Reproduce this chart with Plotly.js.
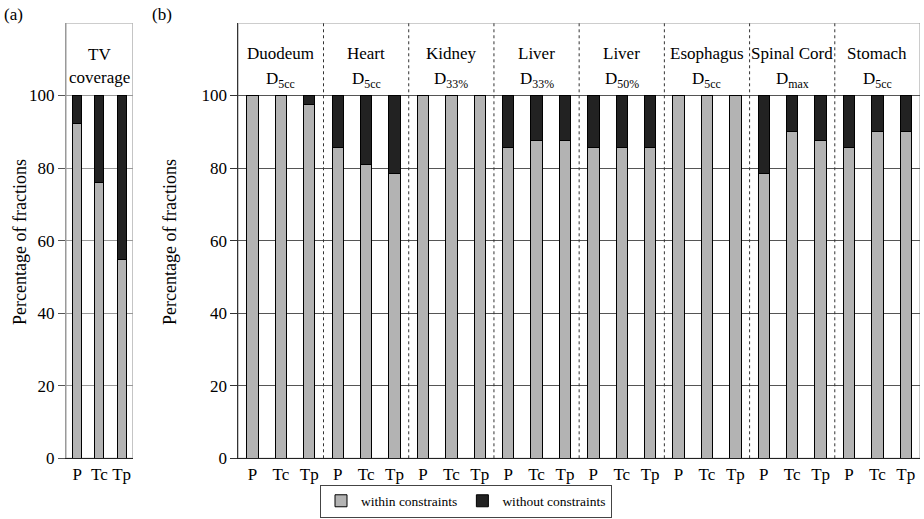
<!DOCTYPE html>
<html><head><meta charset="utf-8">
<script src="https://cdn.plot.ly/plotly-3.0.1.min.js"></script>
<style>html,body{margin:0;padding:0;background:#fff}#chart{width:924px;height:519px}</style>
</head><body><div id="chart"></div>
<script>
// ---- data ----
const methods = ['P', 'Tc', 'Tp'];
const withinA = [92.4, 75.9, 54.8];
const withoutA = [7.6, 24.1, 45.2];
const headerA = ['TV', 'coverage'];

const organs = ['Duodeum', 'Heart', 'Kidney', 'Liver', 'Liver', 'Esophagus', 'Spinal Cord', 'Stomach'];
const metrics = ['D<sub>5cc</sub>', 'D<sub>5cc</sub>', 'D<sub>33%</sub>', 'D<sub>33%</sub>', 'D<sub>50%</sub>', 'D<sub>5cc</sub>', 'D<sub>max</sub>', 'D<sub>5cc</sub>'];
const withinB = [100, 100, 97.5, 85.8, 81.0, 78.5, 100, 100, 100, 85.8, 87.6, 87.6, 85.8, 85.8, 85.8, 100, 100, 100, 78.5, 90.0, 87.6, 85.8, 90.0, 90.0];
const withoutB = [0, 0, 2.5, 14.2, 19.0, 21.5, 0, 0, 0, 14.2, 12.4, 12.4, 14.2, 14.2, 14.2, 0, 0, 0, 21.5, 10.0, 12.4, 14.2, 10.0, 10.0];
const yTicks = [0, 20, 40, 60, 80, 100];
const seriesNames = ['within constraints', 'without constraints'];

// ---- build ----
const FONT = "'Liberation Serif', 'DejaVu Serif', serif";
const cGray = '#b3b3b3', cDark = '#222222';
const xA = methods.map((_, i) => i);
const xB = [], tickB = [];
organs.forEach((o, g) => methods.forEach((m, k) => { xB.push(g * 3 + k); tickB.push(m); }));

const barLine = {color: '#000', width: 1};
const traces = [
  {type: 'bar', x: xA, y: withinA, xaxis: 'x', yaxis: 'y', name: seriesNames[0], showlegend: false,
   marker: {color: cGray, line: barLine}, width: 0.4, hoverinfo: 'y'},
  {type: 'bar', x: xA, y: withoutA, xaxis: 'x', yaxis: 'y', name: seriesNames[1], showlegend: false,
   marker: {color: cDark, line: barLine}, width: 0.4, hoverinfo: 'y'},
  {type: 'bar', x: xB, y: withinB, xaxis: 'x2', yaxis: 'y2', name: seriesNames[0],
   marker: {color: cGray, line: barLine}, width: 0.4, hoverinfo: 'y'},
  {type: 'bar', x: xB, y: withoutB, xaxis: 'x2', yaxis: 'y2', name: seriesNames[1],
   marker: {color: cDark, line: barLine}, width: 0.4, hoverinfo: 'y'}
];

const yDom = [0.117, 0.9557];
const tf = {family: FONT, size: 17, color: '#000'};
const hf = {family: FONT, size: 17, color: '#000'};
const titleF = {family: FONT, size: 18, color: '#000'};
const shapes = [
  {type: 'rect', xref: 'x', yref: 'y', x0: -0.5, x1: 2.5, y0: 0, y1: 120, line: {color: '#999', width: 1}, layer: 'below'},
  {type: 'rect', xref: 'x2', yref: 'y2', x0: -0.5, x1: 23.5, y0: 0, y1: 120, line: {color: '#999', width: 1}, layer: 'below'}
];
for (let g = 1; g < organs.length; g++) {
  shapes.push({type: 'line', xref: 'x2', yref: 'y2', x0: g * 3 - 0.5, x1: g * 3 - 0.5, y0: 0, y1: 120,
    line: {color: '#333', width: 1, dash: '3px,3px'}});
}

const annotations = [];
const ann = (o) => Object.assign({showarrow: false, xanchor: 'center', yanchor: 'middle', font: hf}, o);
annotations.push(ann({xref: 'x', yref: 'y', x: 1, y: 111.2, text: headerA[0]}));
annotations.push(ann({xref: 'x', yref: 'y', x: 1, y: 105, text: headerA[1]}));
organs.forEach((o, g) => {
  annotations.push(ann({xref: 'x2', yref: 'y2', x: g * 3 + 1, y: 111.6, text: o}));
  annotations.push(ann({xref: 'x2', yref: 'y2', x: g * 3 + 1, y: 104.2, text: metrics[g]}));
});
annotations.push(ann({xref: 'paper', yref: 'paper', x: 20 / 924, y: 1 - 242 / 519, text: 'Percentage of fractions',
  textangle: -90, font: titleF}));
annotations.push(ann({xref: 'paper', yref: 'paper', x: 170 / 924, y: 1 - 242 / 519, text: 'Percentage of fractions',
  textangle: -90, font: titleF}));
annotations.push(ann({xref: 'paper', yref: 'paper', x: 13 / 924, y: 1 - 14 / 519, text: '(a)', font: tf}));
annotations.push(ann({xref: 'paper', yref: 'paper', x: 162 / 924, y: 1 - 14 / 519, text: '(b)', font: tf}));

const layout = {
  width: 924, height: 519,
  margin: {l: 0, r: 0, t: 0, b: 0},
  paper_bgcolor: '#fff', plot_bgcolor: '#fff',
  barmode: 'stack',
  font: tf,
  xaxis: {domain: [66 / 924, 132.7 / 924], range: [-0.5, 2.5], anchor: 'y', tickvals: xA, ticktext: methods,
    showline: true, linecolor: '#222', ticks: '', showgrid: false, zeroline: false, tickfont: tf, tickangle: 0},
  yaxis: {domain: yDom, range: [0, 120], anchor: 'x', tickvals: yTicks, showgrid: true, gridcolor: '#999',
    showline: true, linecolor: '#999', ticks: 'outside', ticklen: 7, tickcolor: '#555', zeroline: false, tickfont: tf},
  xaxis2: {domain: [238.3 / 924, 920 / 924], range: [-0.5, 23.5], anchor: 'y2', tickvals: xB, ticktext: tickB,
    showline: true, linecolor: '#222', ticks: '', showgrid: false, zeroline: false, tickfont: tf, tickangle: 0},
  yaxis2: {domain: yDom, range: [0, 120], anchor: 'x2', tickvals: yTicks, showgrid: true, gridcolor: '#555',
    showline: true, linecolor: '#333', ticks: 'outside', ticklen: 7, tickcolor: '#333', zeroline: false, tickfont: tf},
  showlegend: true,
  legend: {orientation: 'h', x: 466 / 924, y: 1 - 501 / 519, xanchor: 'center', yanchor: 'middle',
    bordercolor: '#444', borderwidth: 1, bgcolor: '#fff', traceorder: 'normal', itemwidth: 30,
    font: {family: FONT, size: 13.5, color: '#000'}},
  shapes: shapes,
  annotations: annotations
};

Plotly.newPlot('chart', traces, layout, {displayModeBar: false, staticPlot: true});
</script>
</body></html>
